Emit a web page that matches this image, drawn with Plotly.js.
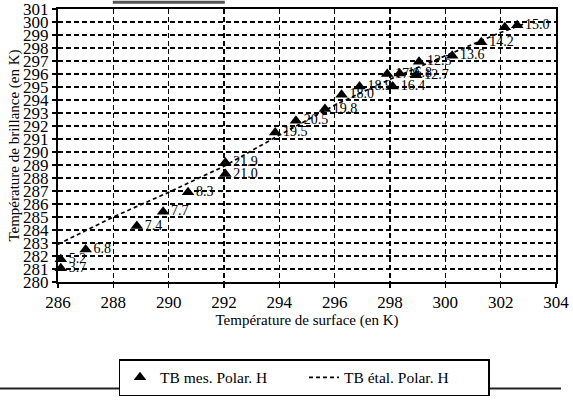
<!DOCTYPE html>
<html>
<head>
<meta charset="utf-8">
<script src="https://cdn.plot.ly/plotly-3.0.1.min.js"></script>
<style>
html,body{margin:0;padding:0;background:#fff;}
#chart{width:573px;height:405px;}
</style>
</head>
<body>
<div id="chart"></div>
<script>
// Measured brightness temperature (H polarisation) vs surface temperature
var surfT = [286.1, 286.1, 287.0, 288.85, 289.8, 290.7, 292.05, 292.05, 293.85, 294.6, 295.65, 296.25, 296.9, 297.9, 298.1, 298.35, 298.95, 299.05, 300.25, 301.3, 302.15, 302.6];
var tbMes = [281.05, 281.75, 282.5, 284.3, 285.4, 286.9, 289.2, 288.3, 291.5, 292.4, 293.3, 294.4, 295.05, 296.0, 295.05, 296.05, 295.9, 296.95, 297.4, 298.45, 299.6, 299.75];
var hourLabels = ["3.7", "5.2", "6.8", "7.4", "7.7", "8.3", "21.9", "21.0", "19.5", "20.5", "19.8", "18.0", "18.9", "17.9", "16.4", "16.8", "12.7", "12.5", "13.6", "14.2", "", "15.0"];
// Calibrated brightness temperature curve
var etalT = [286, 288, 290, 292, 294, 296, 298, 300, 302, 302.9];
var tbEtal = [282.9, 285.0, 286.9, 288.9, 291.3, 293.6, 295.6, 297.4, 299.2, 299.9];

var xTicks = [286, 288, 290, 292, 294, 296, 298, 300, 302, 304];
var yTicks = [];
for (var v = 280; v <= 301; v++) yTicks.push(v);

var serif = "Liberation Serif, Times New Roman, serif";

var traces = [
  {
    x: etalT, y: tbEtal, type: "scatter", mode: "lines",
    name: "TB étal. Polar. H",
    line: {color: "#000", width: 1.7, dash: "4px,3px"},
    legendrank: 2, hoverinfo: "skip"
  },
  {
    x: surfT, y: tbMes, type: "scatter", mode: "markers+text",
    name: "TB mes. Polar. H",
    text: hourLabels, textposition: "middle right",
    textfont: {family: serif, size: 14, color: "#000"},
    marker: {symbol: "triangle-up", size: 11, color: "#000"},
    legendrank: 1, cliponaxis: false
  }
];

var axisCommon = {
  showline: true, linecolor: "#000", linewidth: 2, mirror: true,
  ticks: "outside", ticklen: 4, tickcolor: "#000", tickwidth: 1.5,
  showgrid: true, gridcolor: "#000", gridwidth: 1.2, griddash: "5px,3px",
  zeroline: false, ticklabeloverflow: "allow",
  tickfont: {family: serif, size: 17, color: "#000"}
};

var layout = {
  width: 573, height: 405,
  margin: {l: 58, r: 17, t: 9, b: 116},
  paper_bgcolor: "#fff", plot_bgcolor: "#fff",
  xaxis: Object.assign({}, axisCommon, {
    range: [285.999, 304.001], tickvals: xTicks, ticktext: xTicks.map(String),
    title: {text: "Température de surface (en K)", font: {family: serif, size: 15, color: "#000"}, standoff: 0}
  }),
  yaxis: Object.assign({}, axisCommon, {
    range: [279.995, 301.005], tickvals: yTicks, ticktext: yTicks.map(String),
    title: {text: "Température de brillance (en K)", font: {family: serif, size: 15, color: "#000"}, standoff: 0}
  }),
  showlegend: true,
  legend: {
    orientation: "h", x: 0.494, xanchor: "center", y: -0.283, yanchor: "top",
    bordercolor: "#000", borderwidth: 1.5, bgcolor: "#fff",
    font: {family: serif, size: 15.5, color: "#000"},
    itemwidth: 30, traceorder: "normal",
    entrywidth: 139, entrywidthmode: "pixels"
  },
  shapes: [
    {type: "line", xref: "paper", yref: "paper", x0: -0.117, x1: 1.01, y0: -0.39, y1: -0.39,
     line: {color: "#222", width: 2}},
    {type: "line", xref: "paper", yref: "paper", x0: 0.11, x1: 0.335, y0: 1.025, y1: 1.025,
     line: {color: "#555", width: 3}}
  ]
};

Plotly.newPlot("chart", traces, layout, {displayModeBar: false, staticPlot: true});
</script>
</body>
</html>
